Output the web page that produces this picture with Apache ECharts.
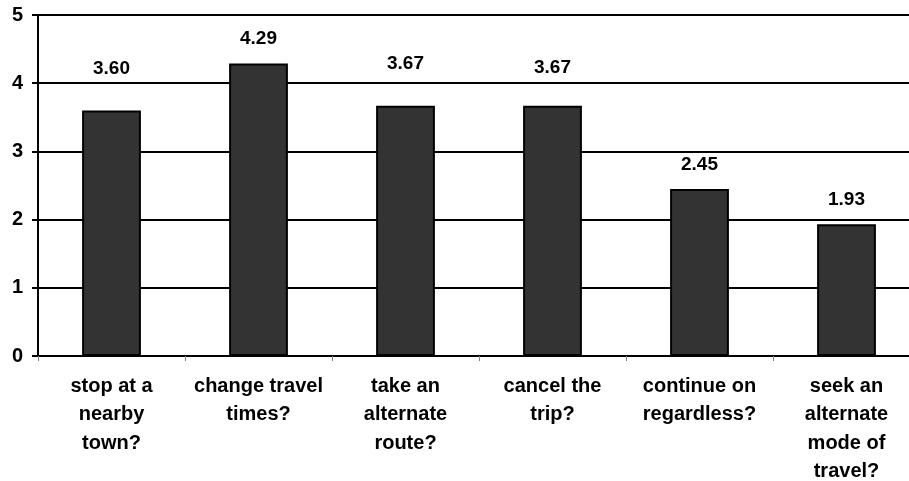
<!DOCTYPE html>
<html>
<head>
<meta charset="utf-8">
<script src="https://cdn.jsdelivr.net/npm/echarts@6/dist/echarts.min.js"></script>
<style>
  html, body { margin: 0; padding: 0; background: #ffffff; }
  #chart { width: 909px; height: 481px; }
</style>
</head>
<body>
<div id="chart"></div>
<script>
// Survey responses: mean rating per action
const categories = [
  'stop at a\nnearby\ntown?',
  'change travel\ntimes?',
  'take an\nalternate\nroute?',
  'cancel the\ntrip?',
  'continue on\nregardless?',
  'seek an\nalternate\nmode of\ntravel?'
];
const meanScores = [3.60, 4.29, 3.67, 3.67, 2.45, 1.93];
const yTicks = [0, 1, 2, 3, 4, 5];

// Labels of the three bars just under the 4 gridline are lifted clear of it
const labelLift = [-17, 0, -17, -13, 0, 0];

const FONT = '"Liberation Sans", Arial, sans-serif';

const chart = echarts.init(document.getElementById('chart'), null, { renderer: 'canvas' });

chart.setOption({
  animation: false,
  backgroundColor: '#ffffff',
  grid: {
    left: 38, top: 15, width: 882, bottom: 125,
    containLabel: false,
    outerBoundsMode: 'none'
  },
  xAxis: {
    type: 'category',
    data: categories,
    boundaryGap: true,
    axisLine: { show: true, lineStyle: { color: '#000000', width: 2 } },
    axisTick: { show: true, alignWithLabel: false, length: 5, lineStyle: { color: '#808080', width: 1 } },
    axisLabel: {
      interval: 0,
      margin: 16,
      color: '#000000',
      fontFamily: FONT,
      fontWeight: 'bold',
      fontSize: 20,
      lineHeight: 28.5,
      align: 'center'
    },
    splitLine: { show: false }
  },
  yAxis: {
    type: 'value',
    min: yTicks[0],
    max: yTicks[yTicks.length - 1],
    interval: 1,
    axisLine: { show: true, lineStyle: { color: '#000000', width: 2 } },
    axisTick: { show: true, inside: false, length: 6, lineStyle: { color: '#000000', width: 2 } },
    axisLabel: {
      margin: 15,
      color: '#000000',
      fontFamily: FONT,
      fontWeight: 'bold',
      fontSize: 20
    },
    splitLine: { show: true, lineStyle: { color: '#000000', width: 2 } }
  },
  series: [{
    type: 'bar',
    barWidth: '40%',
    data: meanScores.map((v, i) => ({
      value: v,
      label: { offset: [0, labelLift[i]] }
    })),
    itemStyle: { color: '#333333', borderColor: '#000000', borderWidth: 2 },
    label: {
      show: true,
      position: 'top',
      distance: 15,
      color: '#000000',
      fontFamily: FONT,
      fontWeight: 'bold',
      fontSize: 19,
      formatter: p => p.value.toFixed(2)
    }
  }]
});
</script>
</body>
</html>
